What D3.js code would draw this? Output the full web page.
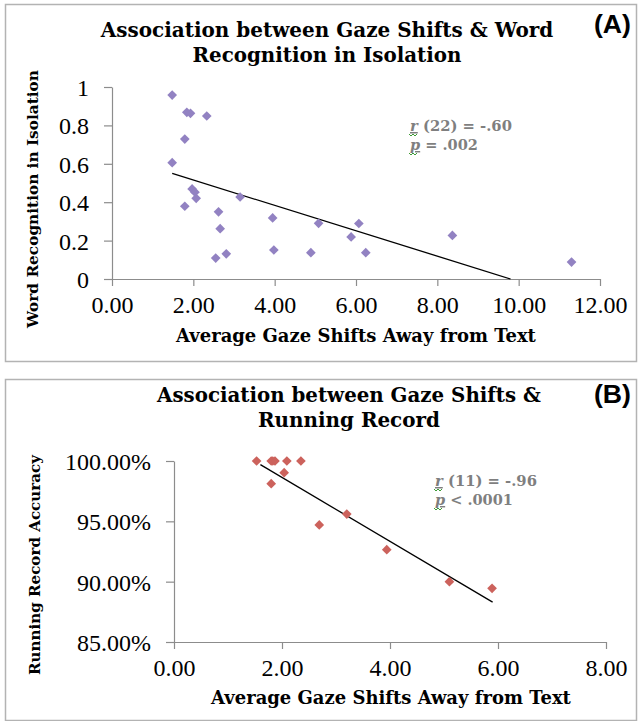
<!DOCTYPE html>
<html>
<head>
<meta charset="utf-8">
<script src="https://cdn.jsdelivr.net/npm/d3@7"></script>
<style>
  body { margin: 0; background: #fff; }
  svg { display: block; }
</style>
</head>
<body>
<svg id="chart" width="640" height="721"></svg>
<script>
// Panel A: gaze shifts vs word recognition in isolation
const aGaze = [1.48, 1.84, 1.93, 2.33, 1.79, 1.48, 1.97, 2.04, 2.07, 1.79, 3.15, 2.62,
  2.66, 2.55, 2.81, 3.95, 3.98, 4.89, 5.08, 5.88, 6.07, 6.24, 8.37, 11.30];
const aWord = [0.958, 0.868, 0.863, 0.849, 0.729, 0.606, 0.469, 0.452, 0.420, 0.379, 0.427, 0.350,
  0.262, 0.109, 0.131, 0.318, 0.151, 0.137, 0.290, 0.219, 0.289, 0.137, 0.227, 0.088];
const aTrendX = [1.48, 9.80];
const aTrendY = [0.55, 0.0];
const aXTicks = [0, 2, 4, 6, 8, 10, 12];
const aYTicks = [0, 0.2, 0.4, 0.6, 0.8, 1];

// Panel B: gaze shifts vs running record accuracy (%)
const bGaze = [1.53, 1.80, 1.83, 1.87, 2.09, 2.35, 2.04, 1.80, 2.69, 3.20, 3.94, 5.10, 5.89];
const bAcc = [100, 100, 100, 100, 100, 100, 99.03, 98.12, 94.7, 95.6, 92.65, 90.0, 89.45];
const bTrendX = [1.60, 5.90];
const bTrendY = [99.7, 88.3];
const bXTicks = [0, 2, 4, 6, 8];
const bYTicks = [85, 90, 95, 100];

const svg = d3.select("#chart");
const serif = "'Liberation Serif', 'DejaVu Serif', serif";
const boldSerif = "'DejaVu Serif', 'Liberation Serif', serif";

// scale a text's font size so that it spans the given width
function fit(sel, width) {
  sel.attr("font-size", 20);
  const len = sel.node().getComputedTextLength();
  sel.attr("font-size", 20 * width / len);
  return sel;
}

function squiggle(g, textSel) {
  const r = textSel.node().getExtentOfChar(0);
  const y0 = r.y + r.height;
  let d = `M${r.x - 1},${y0}`;
  for (let i = 0; i < 4; i++) d += ` l2,${i % 2 ? -2 : 2}`;
  g.append("path").attr("d", d).attr("fill", "none")
    .attr("stroke", "#3d9b35").attr("stroke-width", 1);
}

function drawPanel(p) {
  const g = svg.append("g");

  g.append("rect")
    .attr("x", p.box[0] + 0.5).attr("y", p.box[1] + 0.5)
    .attr("width", p.box[2]).attr("height", p.box[3])
    .attr("fill", "#fff").attr("stroke", "#b3b3b3").attr("stroke-width", 1.5);

  const x = d3.scaleLinear().domain(p.xDomain).range(p.xRange);
  const y = d3.scaleLinear().domain(p.yDomain).range(p.yRange);

  const xAxis = g.append("g")
    .attr("transform", `translate(0,${p.yRange[0]})`)
    .call(d3.axisBottom(x).tickValues(p.xTicks).tickSize(7).tickSizeOuter(0)
      .tickFormat(d3.format(".2f")));
  const yAxis = g.append("g")
    .attr("transform", `translate(${p.xRange[0]},0)`)
    .call(d3.axisLeft(y).tickValues(p.yTicks).tickSize(8).tickSizeOuter(0)
      .tickFormat(p.yFormat));

  [xAxis, yAxis].forEach(ax => {
    ax.select(".domain").attr("stroke", "#8c8c8c").attr("stroke-width", 1.2);
    ax.selectAll(".tick line").attr("stroke", "#8c8c8c").attr("stroke-width", 1.2);
    ax.selectAll("text").attr("font-family", serif).attr("font-size", 24).attr("fill", "#000");
  });
  xAxis.selectAll("text").attr("dy", null).attr("y", 34);
  yAxis.selectAll("text").attr("x", -23).attr("dy", "0.35em");

  // trendline
  g.append("line")
    .attr("x1", x(p.trendX[0])).attr("y1", y(p.trendY[0]))
    .attr("x2", x(p.trendX[1])).attr("y2", y(p.trendY[1]))
    .attr("stroke", "#000").attr("stroke-width", 1.3);

  // diamond markers
  g.selectAll("path.pt")
    .data(p.xs.map((v, i) => [v, p.ys[i]]))
    .enter().append("path")
    .attr("class", "pt")
    .attr("d", d3.symbol(d3.symbolDiamond2, 60))
    .attr("transform", d => `translate(${x(d[0])},${y(d[1])})`)
    .attr("fill", p.color);

  // titles
  p.title.forEach((t, i) => {
    fit(g.append("text")
      .attr("x", p.titleX).attr("y", p.titleY[i])
      .attr("text-anchor", "middle")
      .attr("font-family", boldSerif).attr("font-weight", "bold")
      .text(t[0]), t[1]);
  });
  fit(g.append("text")
    .attr("x", 594).attr("y", p.tagY)
    .attr("font-family", "'Liberation Sans', Arial, sans-serif").attr("font-weight", "bold")
    .text(p.tag), 37);

  fit(g.append("text")
    .attr("x", p.xTitle[0]).attr("y", p.xTitle[1])
    .attr("text-anchor", "middle")
    .attr("font-family", boldSerif).attr("font-weight", "bold")
    .text(p.xLabel), 360);
  const yt = g.append("text")
    .attr("transform", `translate(${p.yTitle[0]},${p.yTitle[1]}) rotate(-90)`)
    .attr("text-anchor", "middle")
    .attr("font-family", boldSerif).attr("font-weight", "bold")
    .text(p.yLabel);
  fit(yt, p.yTitle[2]);

  // statistics annotation
  p.stats.forEach((s, i) => {
    const t = g.append("text")
      .attr("x", p.statsX).attr("y", p.statsY[i])
      .attr("font-family", boldSerif).attr("font-weight", "bold").attr("fill", "#7f7f7f");
    t.append("tspan").attr("font-style", "italic").attr("text-decoration", "underline").text(s[0]);
    t.append("tspan").text(s[1]);
    fit(t, s[2]);
    squiggle(g, t);
  });
}

drawPanel({
  box: [5, 4, 631, 357],
  xDomain: [0, 12], xRange: [112, 600],
  yDomain: [0, 1], yRange: [279, 87],
  xTicks: aXTicks, yTicks: aYTicks,
  yFormat: d => d3.format("")(d),
  xs: aGaze, ys: aWord, trendX: aTrendX, trendY: aTrendY,
  color: "#9282c2",
  title: [["Association between Gaze Shifts & Word", 453], ["Recognition in Isolation", 269]],
  titleX: 327, titleY: [37, 62],
  tag: "(A)", tagY: 33,
  xLabel: "Average Gaze Shifts Away from Text", xTitle: [356, 342],
  yLabel: "Word Recognition in Isolation", yTitle: [38, 199, 258],
  stats: [["r", " (22) = -.60", 102], ["p", " = .002", 68]],
  statsX: 410, statsY: [131, 150]
});

drawPanel({
  box: [5, 379, 631, 341],
  xDomain: [0, 8], xRange: [174, 606],
  yDomain: [85, 100], yRange: [642, 461],
  xTicks: bXTicks, yTicks: bYTicks,
  yFormat: d => d3.format(".2f")(d) + "%",
  xs: bGaze, ys: bAcc, trendX: bTrendX, trendY: bTrendY,
  color: "#cc625c",
  title: [["Association between Gaze Shifts &", 384], ["Running Record", 182]],
  titleX: 349, titleY: [402, 427],
  tag: "(B)", tagY: 403,
  xLabel: "Average Gaze Shifts Away from Text", xTitle: [391, 704],
  yLabel: "Running Record Accuracy", yTitle: [40, 565, 220],
  stats: [["r", " (11) = -.96", 102], ["p", " < .0001", 78]],
  statsX: 435, statsY: [486, 505]
});
</script>
</body>
</html>
